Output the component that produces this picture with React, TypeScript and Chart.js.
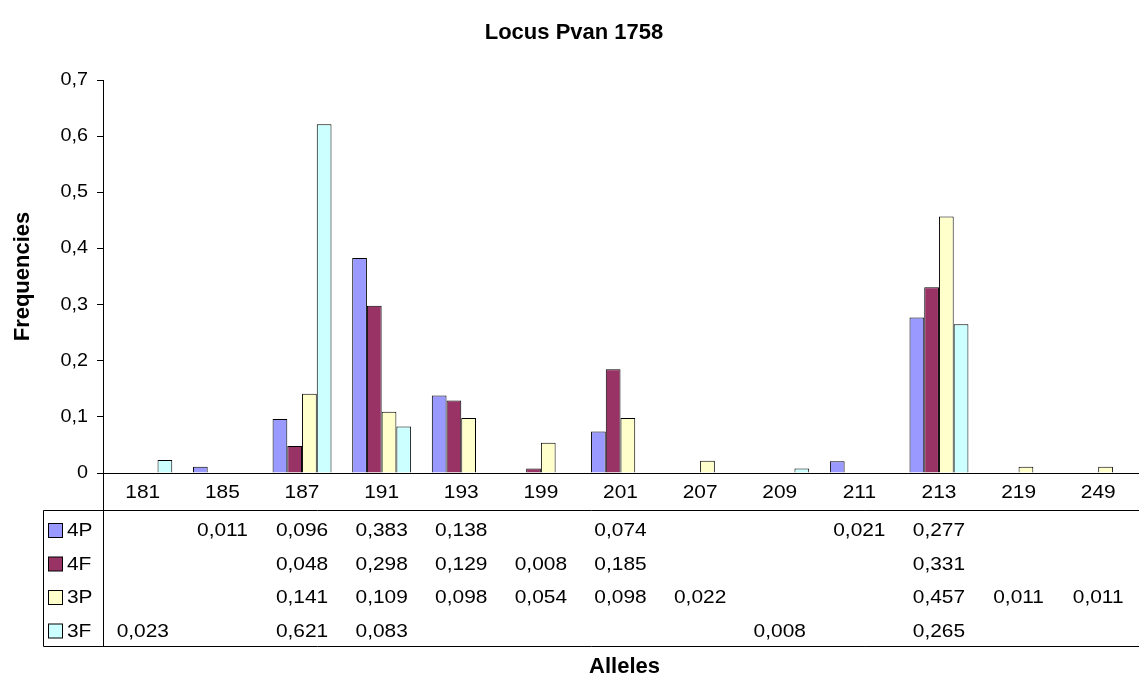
import { useEffect, useRef } from "react";
import { Chart, registerables } from "chart.js";
Chart.register(...registerables);

const categories = ["181", "185", "187", "191", "193", "199", "201", "207", "209", "211", "213", "219", "249"];
const series4P = [null, 0.011, 0.096, 0.383, 0.138, null, 0.074, null, null, 0.021, 0.277, null, null];
const series4F = [null, null, 0.048, 0.298, 0.129, 0.008, 0.185, null, null, null, 0.331, null, null];
const series3P = [null, null, 0.141, 0.109, 0.098, 0.054, 0.098, 0.022, null, null, 0.457, 0.011, 0.011];
const series3F = [0.023, null, 0.621, 0.083, null, null, null, null, 0.008, null, 0.265, null, null];
const seriesNames = ["4P", "4F", "3P", "3F"];
const seriesColors = ["#9999FF", "#993366", "#FFFFCC", "#CCFFFF"];
const allSeries = [series4P, series4F, series3P, series3F];
const yTickValues = [0, 0.1, 0.2, 0.3, 0.4, 0.5, 0.6, 0.7];
const chartTitle = "Locus Pvan 1758";
const yTitle = "Frequencies";
const xTitle = "Alleles";
const yMin = 0;
const yMax = 0.7;
const yStep = 0.1;

const FONT = "'Liberation Sans', Arial, sans-serif";
const W = 1139;
const H = 680;
const SX = 1.1;

const fmt = (v: number, d: number) => (v === 0 ? "0" : v.toFixed(d).replace(".", ","));

function txt(ctx: CanvasRenderingContext2D, s: string, x: number, y: number, align: CanvasTextAlign) {
  ctx.save();
  ctx.translate(x, y);
  ctx.scale(SX, 1);
  ctx.textAlign = align;
  ctx.fillText(s, 0, 0);
  ctx.restore();
}

const tablePlugin = {
  id: "excelTable",
  afterDraw(chart: any) {
    const ctx = chart.ctx as CanvasRenderingContext2D;
    const area = chart.chartArea;
    const xs = chart.scales.x;
    const ys = chart.scales.y;
    const L = area.left;
    const R = area.right;
    const axisY = Math.round(area.bottom) + 0.5;
    const tableTop = 510.5;
    const tableBottom = 646.5;
    const legendLeft = 43.5;
    const rowY = [531, 564.5, 598, 631.5];
    ctx.save();
    ctx.strokeStyle = "#000";
    ctx.lineWidth = 1;
    ctx.beginPath();
    ctx.moveTo(L, axisY);
    ctx.lineTo(W, axisY);
    ctx.moveTo(Math.round(L) + 0.5, area.top);
    ctx.lineTo(Math.round(L) + 0.5, tableBottom);
    ctx.moveTo(legendLeft, tableTop);
    ctx.lineTo(W, tableTop);
    ctx.moveTo(legendLeft, tableBottom);
    ctx.lineTo(W, tableBottom);
    ctx.moveTo(legendLeft, tableTop);
    ctx.lineTo(legendLeft, tableBottom);
    ctx.stroke();

    ctx.fillStyle = "#000";
    ctx.textAlign = "center";
    ctx.textBaseline = "middle";
    ctx.font = `bold 22px ${FONT}`;
    ctx.fillText(chartTitle, 574, 33);
    ctx.fillText(xTitle, (L + R) / 2 + 4, 667);
    ctx.save();
    ctx.translate(23, (area.top + area.bottom) / 2);
    ctx.rotate(-Math.PI / 2);
    ctx.fillText(yTitle, 0, 0);
    ctx.restore();

    ctx.font = `18px ${FONT}`;
    yTickValues.forEach((v) => {
      txt(ctx, fmt(v, 1), 88, ys.getPixelForValue(v), "right");
    });

    ctx.font = `19px ${FONT}`;
    categories.forEach((c, i) => {
      txt(ctx, c, xs.getPixelForValue(i), 492.5, "center");
    });
    allSeries.forEach((s, si) => {
      s.forEach((v, i) => {
        if (v === null) return;
        txt(ctx, fmt(v, 3), xs.getPixelForValue(i), rowY[si], "center");
      });
    });
    seriesNames.forEach((n, si) => {
      const y = rowY[si];
      ctx.fillStyle = seriesColors[si];
      ctx.fillRect(48.5, y - 7.5, 14, 14);
      ctx.strokeRect(48.5, y - 7.5, 14, 14);
      ctx.fillStyle = "#000";
      txt(ctx, n, 67, y, "left");
    });
    ctx.restore();
  },
};

export default function App() {
  const ref = useRef<HTMLCanvasElement | null>(null);
  useEffect(() => {
    document.body.style.margin = "0";
    const canvas = ref.current!;
    const chart = new Chart(canvas, {
      type: "bar",
      data: {
        labels: categories,
        datasets: allSeries.map((s, i) => ({
          label: seriesNames[i],
          data: s,
          backgroundColor: seriesColors[i],
          borderColor: "#000",
          borderWidth: 1,
          categoryPercentage: 0.74,
          barPercentage: 1,
        })),
      },
      options: {
        responsive: false,
        animation: false,
        devicePixelRatio: 1,
        layout: { padding: { top: 80, left: 0, right: 1, bottom: 207 } },
        plugins: { legend: { display: false }, title: { display: false }, tooltip: { enabled: false } },
        scales: {
          x: { display: false, grid: { display: false } },
          y: {
            min: yMin,
            max: yMax,
            afterFit: (scale: any) => {
              scale.width = 103;
            },
            ticks: {
              stepSize: yStep,
              color: "rgba(0,0,0,0)",
              padding: 8,
              font: { family: FONT, size: 18 },
              callback: (v: any) => fmt(Number(v), 1),
            },
            grid: { display: true, drawOnChartArea: false, drawTicks: true, tickLength: 6, color: "#000" },
            border: { display: true, color: "#000" },
          },
        },
      },
      plugins: [tablePlugin],
    });
    return () => chart.destroy();
  }, []);
  return (
    <div style={{ width: W, height: H, background: "#fff" }}>
      <canvas ref={ref} width={W} height={H} style={{ width: W, height: H, display: "block" }} />
    </div>
  );
}
